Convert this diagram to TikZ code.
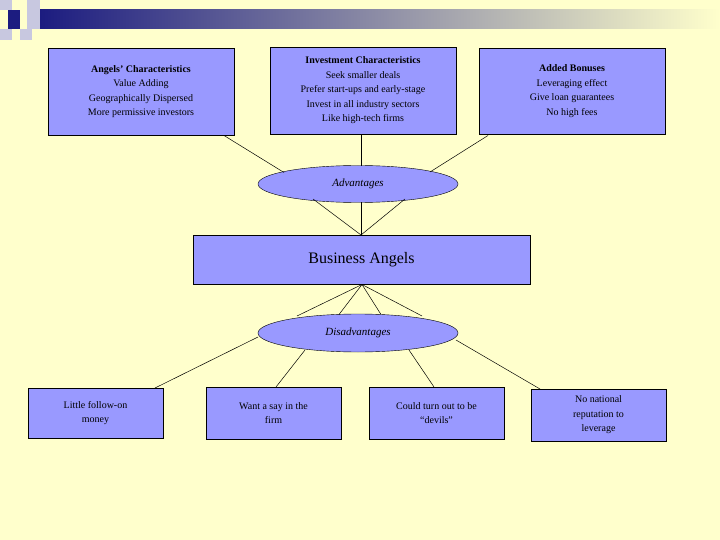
\documentclass[tikz,border=0pt]{standalone}
\usepackage{fontspec}
\setmainfont{Liberation Serif}
\usetikzlibrary{shapes.geometric}
\definecolor{bg}{HTML}{FFFFCC}
\definecolor{bx}{HTML}{9999FF}
\definecolor{navy}{HTML}{1C1C80}
\definecolor{lsq}{HTML}{C8C8E0}
\begin{document}
\begin{tikzpicture}[x=1pt,y=-1pt,
  box/.style={draw,fill=bx,minimum width=#1,align=center,font=\fontsize{10}{14.5}\selectfont,inner sep=0pt},
  ell/.style={draw,fill=bx,ellipse,minimum width=200,minimum height=37,font=\fontsize{11}{13}\selectfont\itshape,inner sep=0pt},
  ln/.style={draw,line width=0.5pt}]
\useasboundingbox (0,0) rectangle (720,540);
\fill[bg] (0,0) rectangle (720,540);
% decoration
\shade[left color=navy,right color=bg] (40,10) rectangle (720,29);
\fill[lsq] (0,0) rectangle (12,10);
\fill[lsq] (27,0) rectangle (40,10);
\fill[navy] (8,10) rectangle (20,29);
\fill[lsq] (27,10) rectangle (40,29);
\fill[lsq] (0,29) rectangle (12,40);
\fill[lsq] (20,29) rectangle (32,40);
% top boxes
\node[box=186,minimum height=87] (a1) at (141,91.5) {\textbf{Angels’ Characteristics}\\Value Adding\\Geographically Dispersed\\More permissive investors};
\node[box=186,minimum height=87] (a2) at (363,90.5) {\textbf{Investment Characteristics}\\Seek smaller deals\\Prefer start-ups and early-stage\\Invest in all industry sectors\\Like high-tech firms};
\node[box=186,minimum height=86] (a3) at (572,91) {\textbf{Added Bonuses}\\Leveraging effect\\Give loan guarantees\\No high fees};
\node[ell] (adv) at (358,184) {Advantages};
\node[box=337,minimum height=49,font=\fontsize{16}{18}\selectfont] (ba) at (361.5,259.5) {Business Angels};
\node[ell,minimum height=38] (dis) at (358,333) {Disadvantages};
\node[box=135,minimum height=50] (d1) at (95.5,413) {Little follow-on\\money};
\node[box=135,minimum height=52] (d2) at (273.5,413) {Want a say in the\\firm};
\node[box=135,minimum height=52] (d3) at (436.5,413) {Could turn out to be\\“devils”};
\node[box=135,minimum height=52] (d4) at (598.5,415) {No national\\reputation to\\leverage};
% connector end points
\coordinate (bt) at (361,235); \coordinate (bb) at (362,284.5);
\coordinate (p1) at (224,135.5); \coordinate (q1) at (284,172.5);
\coordinate (p2) at (361,134.5); \coordinate (q2) at (361,166);
\coordinate (p3) at (488,135.5); \coordinate (q3) at (430,172);
\coordinate (e1) at (313,199); \coordinate (e2) at (361,202.5); \coordinate (e3) at (405,199);
\coordinate (f1) at (297,316); \coordinate (f2) at (339,314.5); \coordinate (f3) at (381,314.5); \coordinate (f4) at (422,316);
\coordinate (g1) at (258,337); \coordinate (g2) at (305,350); \coordinate (g3) at (409,350); \coordinate (g4) at (456,340);
\coordinate (h1) at (155,388); \coordinate (h2) at (276,387); \coordinate (h3) at (434,387); \coordinate (h4) at (540,389);
\begin{scope}[on background layer/.style={}]
\draw[ln] (p1) -- (q1); \draw[ln] (p2) -- (q2); \draw[ln] (p3) -- (q3);
\draw[ln] (e1) -- (bt); \draw[ln] (e2) -- (bt); \draw[ln] (e3) -- (bt);
\draw[ln] (bb) -- (f1); \draw[ln] (bb) -- (f2); \draw[ln] (bb) -- (f3); \draw[ln] (bb) -- (f4);
\draw[ln] (g1) -- (h1); \draw[ln] (g2) -- (h2); \draw[ln] (g3) -- (h3); \draw[ln] (g4) -- (h4);
\end{scope}
\end{tikzpicture}
\end{document}
